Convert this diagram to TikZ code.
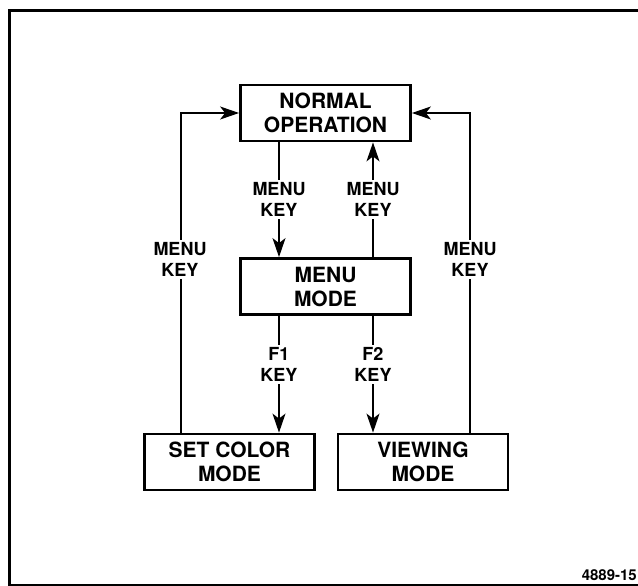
\documentclass[tikz,border=0pt]{standalone}
\usepackage{fontspec}
\setmainfont{TeX Gyre Heros}
\usetikzlibrary{arrows.meta,calc}
\tikzset{
  box/.style={draw, line width=2.8pt, minimum width=170pt, minimum height=56pt, inner sep=0pt,
    align=center, font=\fontsize{21}{24}\selectfont\bfseries},
  lbl/.style={fill=white, inner sep=3pt, align=center, font=\fontsize{18}{20.5}\selectfont\bfseries},
  conn/.style={line width=1.4pt},
  arr/.style={conn, -{Stealth[length=19pt, width=13pt, inset=5pt]}},
}
\begin{document}
\begin{tikzpicture}[x=1pt, y=-1pt]
\useasboundingbox (0,0) rectangle (638,586);
\begin{scope}
\clip (0,0) rectangle (638,586);
\draw[line width=3pt] (9.5,10.5) rectangle (660,585);
\end{scope}
\node[box] (normal) at (325.5,113) {NORMAL\\OPERATION};
\node[box] (menu) at (325.5,286.5) {MENU\\MODE};
\node[box] (set) at (229.5,462) {SET COLOR\\MODE};
\node[box] (view) at (423,462) {VIEWING\\MODE};
\coordinate (Lx) at (181,113);
\coordinate (Rx) at (470,113);
\coordinate (Ax) at (279,0);
\coordinate (Bx) at (373,0);
% left return
\draw[arr] (set.north -| Lx) |- (normal.west);
\node[lbl] (l1) at (180,259.5) {MENU\\KEY};
% right return
\draw[arr] (view.north -| Rx) |- (normal.east);
\node[lbl] (l2) at (470,259.5) {MENU\\KEY};
% middle
\draw[arr] (normal.south -| Ax) -- (menu.north -| Ax);
\node[lbl] (l3) at (279,199.5) {MENU\\KEY};
\draw[arr] (menu.north -| Bx) -- (normal.south -| Bx);
\node[lbl] (l4) at (373,199.5) {MENU\\KEY};
\draw[arr] (menu.south -| Ax) -- (set.north -| Ax);
\node[lbl] (l5) at (279,364.5) {F1\\KEY};
\draw[arr] (menu.south -| Bx) -- (view.north -| Bx);
\node[lbl] (l6) at (373,364.5) {F2\\KEY};
\node[font=\fontsize{15}{17}\selectfont\bfseries, anchor=east, inner sep=0pt] (fig) at (637,575) {4889-15};
\end{tikzpicture}
\end{document}
